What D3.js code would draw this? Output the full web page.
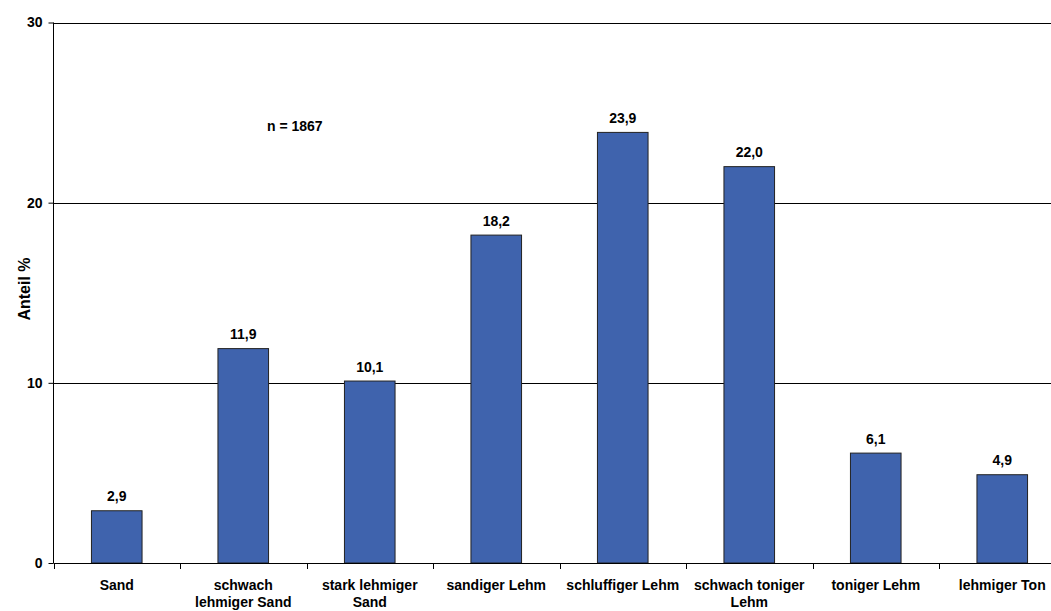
<!DOCTYPE html>
<html><head><meta charset="utf-8">
<script src="https://cdn.jsdelivr.net/npm/d3@7/dist/d3.min.js"></script>
<style>body{margin:0;background:#fff}text{font-family:"Liberation Sans",Arial,sans-serif;font-weight:bold}</style>
</head><body><svg id="c" width="1051" height="611"></svg>
<script>
const categories = [["Sand"],["schwach","lehmiger Sand"],["stark lehmiger","Sand"],["sandiger Lehm"],["schluffiger Lehm"],["schwach toniger","Lehm"],["toniger Lehm"],["lehmiger Ton"]];
const values = [2.9, 11.9, 10.1, 18.2, 23.9, 22.0, 6.1, 4.9];
const valueLabels = ["2,9","11,9","10,1","18,2","23,9","22,0","6,1","4,9"];
const yTicks = [0, 10, 20, 30];
const note = "n = 1867";
const yTitle = "Anteil %";

const svg = d3.select("#c");
const L = 53.5, R = 1065.5, T = 22.5, B = 563;
const x = d3.scaleBand().domain(d3.range(values.length)).range([L, R]).paddingInner(0.6).paddingOuter(0.3);
const y = d3.scaleLinear().domain([0, 30]).range([B, T]);

// gridlines
svg.append("g").selectAll("line").data(yTicks.filter(d => d > 0)).join("line")
  .attr("x1", L).attr("x2", 1051).attr("y1", d => Math.round(y(d)) + 0.5).attr("y2", d => Math.round(y(d)) + 0.5)
  .attr("stroke", "#000").attr("stroke-width", 1);

// bars
svg.append("g").selectAll("rect").data(values).join("rect")
  .attr("x", (d, i) => x(i)).attr("width", x.bandwidth())
  .attr("y", d => y(d)).attr("height", d => B - y(d))
  .attr("fill", "#3F63AD").attr("stroke", "#222").attr("stroke-width", 1);

// value labels
svg.append("g").selectAll("text").data(values).join("text")
  .attr("x", (d, i) => x(i) + x.bandwidth() / 2).attr("y", d => y(d) - 9.5)
  .attr("text-anchor", "middle").attr("font-size", 14).text((d, i) => valueLabels[i]);

// y axis
const ya = svg.append("g").attr("transform", `translate(${L},0)`)
  .call(d3.axisLeft(y).tickValues(yTicks).tickSize(5).tickPadding(6).tickFormat(d3.format("d")));
ya.select(".domain").attr("stroke", "#000").attr("d", `M0,${T}V${B}`);
ya.selectAll("line").attr("stroke", "#000");
ya.selectAll("text").attr("font-size", 14).attr("fill", "#000").attr("font-family", "Liberation Sans, Arial").attr("font-weight", "bold");

// x axis
const xa = svg.append("g");
xa.append("line").attr("x1", L).attr("x2", 1051).attr("y1", B + 0.5).attr("y2", B + 0.5).attr("stroke", "#000");
xa.selectAll("line.t").data(d3.range(values.length + 1)).join("line").attr("class", "t")
  .attr("x1", i => Math.round(L + i * (R - L) / values.length) + 0.5)
  .attr("x2", i => Math.round(L + i * (R - L) / values.length) + 0.5)
  .attr("y1", B).attr("y2", B + 6).attr("stroke", "#000");
const lab = xa.selectAll("text").data(categories).join("text")
  .attr("text-anchor", "middle").attr("font-size", 14)
  .attr("transform", (d, i) => `translate(${x(i) + x.bandwidth() / 2},${B + 27})`);
lab.selectAll("tspan").data(d => d).join("tspan").attr("x", 0).attr("dy", (d, j) => j ? 16.5 : 0).text(d => d);

// y title
svg.append("text").attr("transform", "translate(30,289) rotate(-90)").attr("text-anchor", "middle")
  .attr("font-size", 16).text(yTitle);

// note
svg.append("text").attr("x", 267).attr("y", 131).attr("font-size", 14).text(note);
</script></body></html>
